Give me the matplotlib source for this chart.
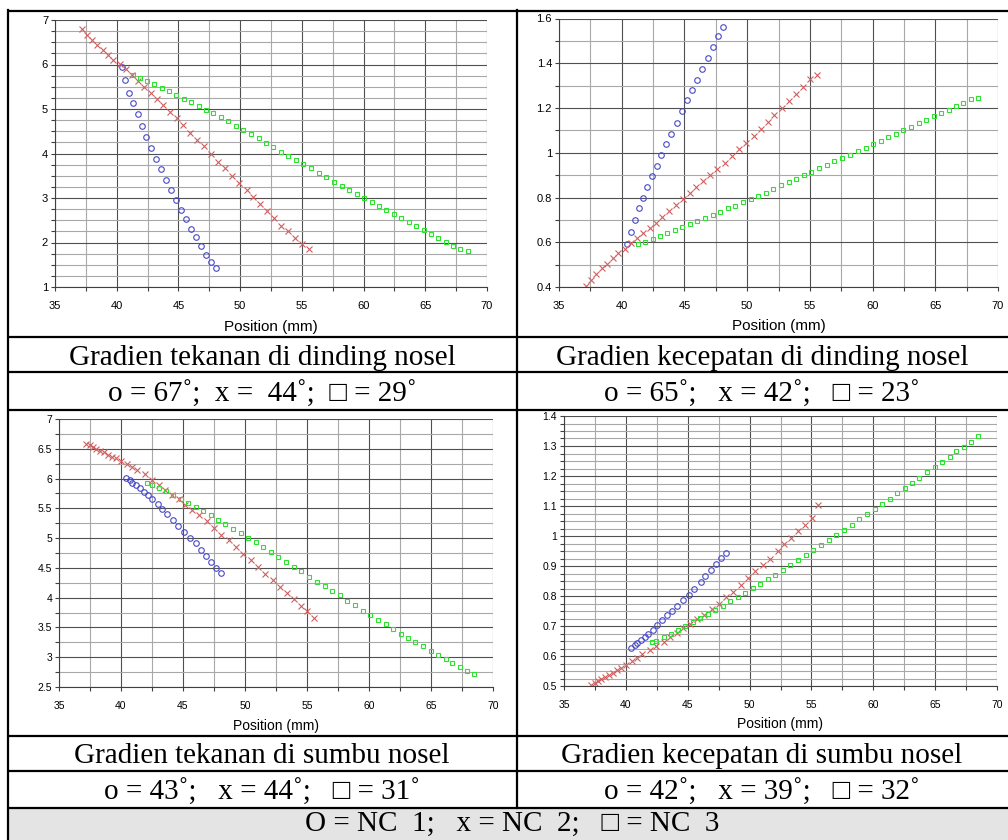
import matplotlib
matplotlib.use('Agg')
import matplotlib.pyplot as plt
from matplotlib.ticker import MultipleLocator

# posisi titik (mm) - dinding
x_wall_nc1 = [40.41, 40.71, 41.03, 41.35, 41.71, 42.03, 42.38, 42.79, 43.17, 43.57, 43.96,
              44.40, 44.80, 45.20, 45.61, 46.00, 46.43, 46.85, 47.27, 47.67, 48.08]
x_wall_nc2 = [37.15, 37.56, 37.98, 38.41, 38.86, 39.29, 39.73, 40.23, 40.72, 41.23, 41.71,
              42.23, 42.74, 43.25, 43.79, 44.32, 44.87, 45.41, 45.95, 46.52, 47.05, 47.62,
              48.21, 48.78, 49.37, 49.94, 50.52, 51.08, 51.64, 52.18, 52.74, 53.32, 53.87,
              54.45, 55.00, 55.56]
x_wall_nc3 = [41.30, 41.87, 42.47, 43.04, 43.64, 44.25, 44.84, 45.44, 46.04, 46.65, 47.25,
              47.83, 48.45, 49.04, 49.68, 50.27, 50.88, 51.49, 52.08, 52.70, 53.31, 53.91,
              54.52, 55.13, 55.75, 56.35, 56.96, 57.58, 58.24, 58.83, 59.45, 60.07, 60.66,
              61.25, 61.84, 62.46, 63.06, 63.68, 64.27, 64.89, 65.48, 66.07, 66.66, 67.23,
              67.82, 68.44]

# gradien tekanan di dinding
p_wall_nc1 = [5.95, 5.65, 5.37, 5.13, 4.88, 4.62, 4.37, 4.12, 3.87, 3.65, 3.40,
              3.17, 2.95, 2.72, 2.52, 2.30, 2.12, 1.92, 1.73, 1.56, 1.42]
p_wall_nc2 = [6.79, 6.67, 6.55, 6.44, 6.33, 6.22, 6.11, 6.01, 5.89, 5.77, 5.63,
              5.49, 5.36, 5.22, 5.08, 4.94, 4.79, 4.63, 4.47, 4.31, 4.16, 4.00,
              3.82, 3.67, 3.50, 3.34, 3.17, 3.02, 2.86, 2.71, 2.55, 2.38, 2.25,
              2.09, 1.97, 1.85]
p_wall_nc3 = [5.77, 5.69, 5.62, 5.56, 5.48, 5.40, 5.32, 5.23, 5.15, 5.06, 4.98,
              4.90, 4.81, 4.72, 4.61, 4.52, 4.44, 4.34, 4.24, 4.14, 4.04, 3.95,
              3.85, 3.76, 3.67, 3.57, 3.47, 3.37, 3.28, 3.19, 3.10, 3.01, 2.92,
              2.83, 2.74, 2.65, 2.56, 2.47, 2.38, 2.29, 2.20, 2.11, 2.02, 1.93,
              1.85, 1.81]

# gradien kecepatan di dinding
v_wall_nc1 = [0.590, 0.647, 0.701, 0.751, 0.797, 0.845, 0.894, 0.942, 0.990, 1.038, 1.086,
              1.135, 1.185, 1.236, 1.282, 1.327, 1.376, 1.423, 1.472, 1.521, 1.563]
v_wall_nc2 = [0.403, 0.433, 0.460, 0.485, 0.504, 0.530, 0.551, 0.572, 0.596, 0.619, 0.643,
              0.664, 0.688, 0.713, 0.738, 0.765, 0.792, 0.821, 0.848, 0.873, 0.902, 0.927,
              0.956, 0.987, 1.016, 1.043, 1.076, 1.106, 1.137, 1.169, 1.200, 1.233, 1.263,
              1.295, 1.328, 1.349]
v_wall_nc3 = [0.590, 0.603, 0.614, 0.628, 0.641, 0.655, 0.668, 0.680, 0.695, 0.709, 0.724,
              0.736, 0.751, 0.763, 0.781, 0.794, 0.808, 0.822, 0.840, 0.855, 0.868, 0.883,
              0.899, 0.913, 0.930, 0.945, 0.961, 0.976, 0.992, 1.006, 1.021, 1.039, 1.052,
              1.070, 1.083, 1.100, 1.116, 1.132, 1.146, 1.163, 1.178, 1.193, 1.208, 1.221,
              1.238, 1.244]

# posisi titik (mm) - sumbu
x_axis_nc1 = [40.43, 40.70, 40.91, 41.21, 41.51, 41.83, 42.18, 42.53, 42.96, 43.33, 43.74,
              44.17, 44.62, 45.08, 45.54, 46.05, 46.42, 46.85, 47.28, 47.69, 48.09]
x_axis_nc2 = [37.20, 37.47, 37.74, 38.01, 38.33, 38.63, 38.95, 39.27, 39.62, 40.03, 40.46,
              40.89, 41.32, 41.94, 42.47, 43.06, 43.58, 44.14, 44.65, 45.16, 45.75, 46.32,
              46.94, 47.50, 48.09, 48.68, 49.27, 49.87, 50.46, 51.05, 51.64, 52.26, 52.80,
              53.36, 53.92, 54.49, 55.03, 55.56]
x_axis_nc3 = [42.12, 42.47, 43.06, 43.63, 44.22, 44.81, 45.43, 46.02, 46.61, 47.23, 47.82,
              48.41, 49.03, 49.65, 50.24, 50.86, 51.48, 52.07, 52.69, 53.28, 53.92, 54.54,
              55.16, 55.81, 56.42, 57.02, 57.63, 58.25, 58.87, 59.48, 60.10, 60.72, 61.34,
              61.93, 62.55, 63.14, 63.70, 64.35, 65.02, 65.56, 66.18, 66.72, 67.31, 67.93,
              68.44]

# gradien tekanan di sumbu
p_axis_nc1 = [6.01, 5.97, 5.93, 5.89, 5.84, 5.78, 5.72, 5.65, 5.57, 5.49, 5.40,
              5.31, 5.21, 5.11, 5.01, 4.91, 4.80, 4.70, 4.60, 4.50, 4.42]
p_axis_nc2 = [6.58, 6.56, 6.53, 6.50, 6.47, 6.44, 6.40, 6.37, 6.34, 6.29, 6.24,
              6.19, 6.15, 6.08, 5.98, 5.90, 5.81, 5.73, 5.66, 5.56, 5.48, 5.38,
              5.28, 5.17, 5.06, 4.96, 4.85, 4.74, 4.63, 4.51, 4.40, 4.29, 4.18,
              4.07, 3.97, 3.86, 3.77, 3.66]
p_axis_nc3 = [5.93, 5.90, 5.84, 5.79, 5.72, 5.65, 5.59, 5.52, 5.46, 5.38, 5.31,
              5.24, 5.16, 5.08, 5.00, 4.93, 4.85, 4.76, 4.69, 4.60, 4.52, 4.44,
              4.35, 4.27, 4.19, 4.12, 4.04, 3.95, 3.87, 3.78, 3.71, 3.63, 3.55,
              3.47, 3.39, 3.33, 3.26, 3.19, 3.11, 3.04, 2.97, 2.90, 2.84, 2.77,
              2.72]

# gradien kecepatan di sumbu
v_axis_nc1 = [0.628, 0.637, 0.645, 0.655, 0.664, 0.674, 0.688, 0.705, 0.719, 0.736, 0.751,
              0.767, 0.786, 0.805, 0.825, 0.848, 0.868, 0.888, 0.908, 0.926, 0.944]
v_axis_nc2 = [0.502, 0.510, 0.517, 0.523, 0.530, 0.538, 0.544, 0.552, 0.561, 0.571, 0.583,
              0.595, 0.607, 0.621, 0.634, 0.648, 0.664, 0.677, 0.694, 0.707, 0.723, 0.737,
              0.756, 0.775, 0.796, 0.815, 0.836, 0.859, 0.882, 0.904, 0.925, 0.950, 0.972,
              0.995, 1.016, 1.036, 1.061, 1.103]
v_axis_nc3 = [0.647, 0.651, 0.662, 0.673, 0.686, 0.700, 0.714, 0.727, 0.741, 0.754, 0.768,
              0.782, 0.796, 0.811, 0.826, 0.840, 0.856, 0.871, 0.888, 0.904, 0.920, 0.937,
              0.954, 0.970, 0.988, 1.005, 1.021, 1.038, 1.056, 1.073, 1.090, 1.108, 1.125,
              1.142, 1.160, 1.176, 1.194, 1.212, 1.230, 1.247, 1.264, 1.282, 1.298, 1.314,
              1.333]

captions = ['Gradien tekanan di dinding nosel', 'Gradien kecepatan di dinding nosel',
            'Gradien tekanan di sumbu nosel', 'Gradien kecepatan di sumbu nosel']
angles = ['o = 67\u02da;  x =  44\u02da;  \u25a1 = 29\u02da',
          'o = 65\u02da;   x = 42\u02da;   \u25a1 = 23\u02da',
          'o = 43\u02da;   x = 44\u02da;   \u25a1 = 31\u02da',
          'o = 42\u02da;   x = 39\u02da;   \u25a1 = 32\u02da']
legend_text = 'O = NC  1;   x = NC  2;   \u25a1 = NC  3'

W, H = 1008, 840
fig = plt.figure(figsize=(W / 100, H / 100), dpi=100)
serif = ['Liberation Serif', 'DejaVu Sans']


def box(px0, py0, px1, py1):
    return [px0 / W, 1 - py1 / H, (px1 - px0) / W, (py1 - py0) / H]


def panel(rect, ylim, ymaj, ymin, xs, ys, fs):
    ax = fig.add_axes(box(*rect))
    ax.plot(xs[0], ys[0], 'o', ms=4, mfc='none', mec='#4848c8', mew=0.8)
    ax.plot(xs[1], ys[1], 'x', ms=4.5, mec='#d06060', mew=0.8)
    ax.plot(xs[2], ys[2], 's', ms=3.2, mfc='none', mec='#30e030', mew=0.8)
    ax.set_xlim(35, 70)
    ax.set_ylim(*ylim)
    ax.xaxis.set_major_locator(MultipleLocator(5))
    ax.xaxis.set_minor_locator(MultipleLocator(2.5))
    ax.yaxis.set_major_locator(MultipleLocator(ymaj))
    ax.yaxis.set_minor_locator(MultipleLocator(ymin))
    ax.grid(which='major', color='#505050', lw=0.8)
    ax.grid(which='minor', color='#a8a8a8', lw=0.8)
    ax.set_axisbelow(True)
    for s in ['top', 'right']:
        ax.spines[s].set_visible(False)
    for s in ['left', 'bottom']:
        ax.spines[s].set_color('#404040')
        ax.spines[s].set_linewidth(0.8)
    ax.tick_params(which='both', direction='out', length=3, color='#404040', width=0.8)
    ax.tick_params(axis='x', pad=7, labelsize=fs)
    ax.tick_params(axis='y', pad=2, labelsize=fs)
    ax.yaxis.set_major_formatter(plt.FuncFormatter(lambda v, p: ('%g' % round(v, 3))))
    for lab in ax.get_xticklabels() + ax.get_yticklabels():
        lab.set_family('Liberation Sans')
    return ax


xs_wall = [x_wall_nc1, x_wall_nc2, x_wall_nc3]
xs_axis = [x_axis_nc1, x_axis_nc2, x_axis_nc3]

panel((55, 20, 487, 287), (1, 7), 1, 0.25, xs_wall, [p_wall_nc1, p_wall_nc2, p_wall_nc3], 8)
panel((559, 18.5, 998, 287), (0.4, 1.6), 0.2, 0.1, xs_wall, [v_wall_nc1, v_wall_nc2, v_wall_nc3], 8)
panel((59, 419, 493, 687), (2.5, 7), 0.5, 0.25, xs_axis, [p_axis_nc1, p_axis_nc2, p_axis_nc3], 7.5)
panel((564, 416, 997, 686), (0.5, 1.4), 0.1, 0.025, xs_axis, [v_axis_nc1, v_axis_nc2, v_axis_nc3], 7.5)

# label sumbu x
for cx, cy, fs in [(271, 327, 11), (779, 326, 11), (276, 726, 10), (780, 724, 10)]:
    fig.text(cx / W, 1 - cy / H, 'Position (mm)', ha='center', va='center',
             family='Liberation Sans', fontsize=fs)

# garis tabel
lines = fig.add_axes([0, 0, 1, 1])
lines.set_xlim(0, W)
lines.set_ylim(H, 0)
lines.axis('off')
lines.fill_between([8, W], 808, H, color='#e4e4e4', lw=0)
for yy in [11, 337, 372, 410, 736, 771, 808]:
    lines.plot([8, W], [yy, yy], color='black', lw=1.6, solid_capstyle='butt')
lines.plot([8, 8], [10, H], color='black', lw=1.6)
lines.plot([517, 517], [10, 808], color='black', lw=1.6)

# teks keterangan
cols = [262, 762]
for i, cap in enumerate(captions):
    cx = cols[i % 2]
    base_cap = 365 if i < 2 else 763
    base_ang = 402 if i < 2 else 800
    lines.text(cx, base_cap, cap, ha='center', va='baseline', family=serif, fontsize=21)
    lines.text(cx, base_ang, angles[i], ha='center', va='baseline', family=serif, fontsize=21)
lines.text(512, 831, legend_text, ha='center', va='baseline', family=serif, fontsize=21)

fig.savefig('out.png', dpi=100)
